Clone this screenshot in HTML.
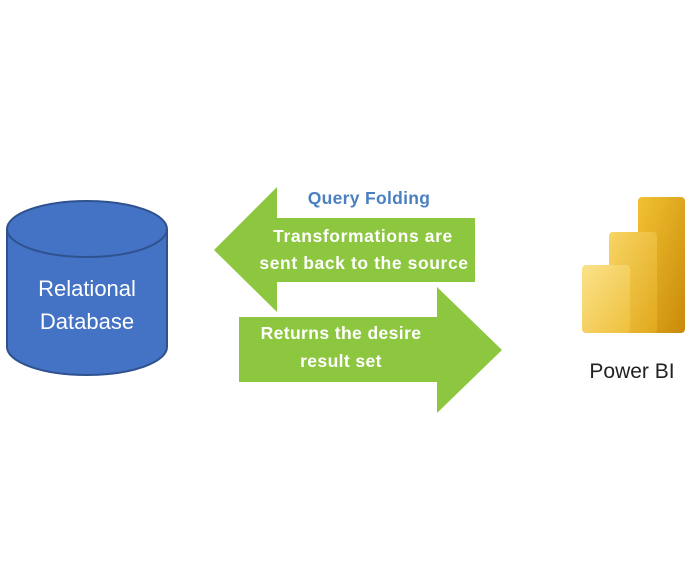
<!DOCTYPE html>
<html><head><style>
body{margin:0;background:#fff;width:699px;height:576px;overflow:hidden}
text{font-family:"Liberation Sans",sans-serif}
</style></head><body>
<svg width="699" height="576" viewBox="0 0 699 576">
<defs>
<linearGradient id="g1" x1="0" y1="0" x2="1" y2="1"><stop offset="0" stop-color="#f2c232"/><stop offset="1" stop-color="#c98a0a"/></linearGradient>
<linearGradient id="g2" x1="0" y1="0" x2="1" y2="1"><stop offset="0" stop-color="#f8d564"/><stop offset="1" stop-color="#e1a81c"/></linearGradient>
<linearGradient id="g3" x1="0" y1="0" x2="1" y2="1"><stop offset="0" stop-color="#fbe28a"/><stop offset="1" stop-color="#eec03c"/></linearGradient>
</defs>
<path d="M7,229 L7,347 A80,28 0 0 0 167,347 L167,229" fill="#4472c4" stroke="#2f528f" stroke-width="2"/>
<ellipse cx="87" cy="229" rx="80" ry="28" fill="#4472c4" stroke="#2f528f" stroke-width="2"/>
<text x="87" y="296" fill="#fff" font-size="22" text-anchor="middle">Relational</text>
<text x="87" y="329" fill="#fff" font-size="22" text-anchor="middle">Database</text>
<polygon points="214,250 277,187 277,218 475,218 475,282 277,282 277,312" fill="#8dc63f"/>
<polygon points="239,317 437,317 437,287 502,350 437,413 437,382 239,382" fill="#8dc63f"/>
<text x="369" y="204" fill="#4a7fc0" font-size="17.5" font-weight="bold" text-anchor="middle" letter-spacing="0.3">Query Folding</text>
<text x="363" y="242" fill="#fff" font-size="17.5" font-weight="bold" text-anchor="middle" letter-spacing="0.6">Transformations are</text>
<text x="364" y="269" fill="#fff" font-size="17.5" font-weight="bold" text-anchor="middle" letter-spacing="0.6">sent back to the source</text>
<text x="341" y="339" fill="#fff" font-size="17.5" font-weight="bold" text-anchor="middle" letter-spacing="0.4">Returns the desire</text>
<text x="341" y="367" fill="#fff" font-size="17.5" font-weight="bold" text-anchor="middle" letter-spacing="0.4">result set</text>
<rect x="638" y="197" width="47" height="136" rx="4" fill="url(#g1)"/>
<rect x="609" y="232" width="48" height="101" rx="4" fill="url(#g2)"/>
<rect x="582" y="265" width="48" height="68" rx="4" fill="url(#g3)"/>
<text x="632" y="378" fill="#222" font-size="21" text-anchor="middle">Power BI</text>
</svg>
</body></html>
